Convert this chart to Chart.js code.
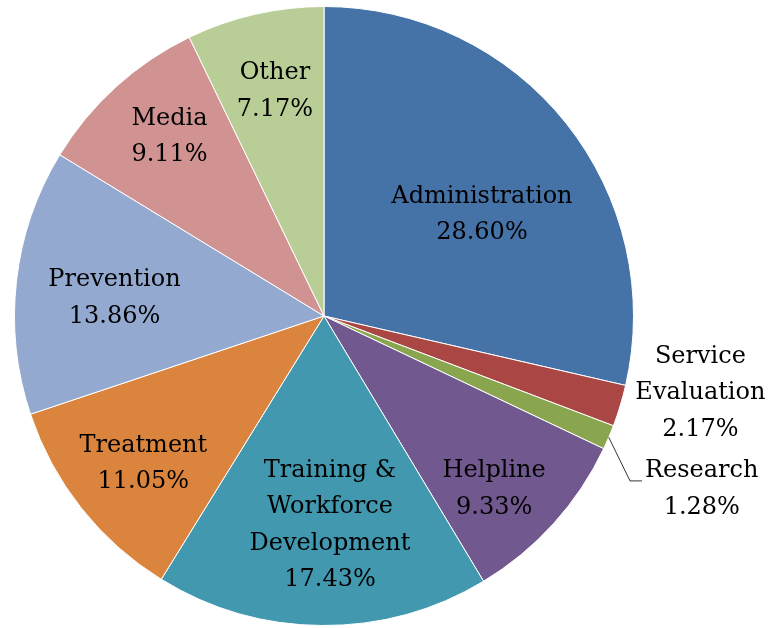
<!DOCTYPE html>
<html>
<head>
<meta charset="utf-8">
<script src="https://cdn.jsdelivr.net/npm/chart.js@4"></script>
<style>
  html, body { margin: 0; padding: 0; background: #fff; }
  #pie { display: block; }
</style>
</head>
<body>
<canvas id="pie" width="770" height="628"></canvas>
<script>
// categories, clockwise from 12 o'clock
const categories = [
    ['Administration'],
    ['Service', 'Evaluation'],
    ['Research'],
    ['Helpline'],
    ['Training &', 'Workforce', 'Development'],
    ['Treatment'],
    ['Prevention'],
    ['Media'],
    ['Other']
];
const shares = [28.60, 2.17, 1.28, 9.33, 17.43, 11.05, 13.86, 9.11, 7.17];
const sliceColors = ['#4572A7', '#AA4643', '#89A54E', '#71588F', '#4198AF', '#DB843D', '#93A9CF', '#D19392', '#B9CD96'];

// label placement: distance from centre (fraction of radius) and turn away from mid angle (deg)
const labelRadius = [0.61, 1.24, 1.34, 0.78, 0.67, 0.75, 0.68, 0.77, 0.75];
const labelTurn   = [5.3, -5.6, 1.3, 3, -2, -0.5, -1, 1.8, 0.7];
const leaderFor = 2; // Research gets a leader line

const FONT = '24px "DejaVu Serif"';
const LINE_H = 36.5;

const sliceLabels = {
    id: 'sliceLabels',
    afterDatasetsDraw(chart) {
        const ctx = chart.ctx;
        const arcs = chart.getDatasetMeta(0).data;
        ctx.save();
        ctx.font = FONT;
        ctx.fillStyle = '#000';
        ctx.textAlign = 'center';
        ctx.textBaseline = 'middle';
        arcs.forEach((arc, i) => {
            const mid = (arc.startAngle + arc.endAngle) / 2;
            const a = mid + labelTurn[i] * Math.PI / 180;
            const r = arc.outerRadius * labelRadius[i];
            const x = arc.x + Math.cos(a) * r;
            const y = arc.y + Math.sin(a) * r + 2;
            const lines = [...categories[i], shares[i].toFixed(2) + '%'];
            const top = y - (lines.length - 1) * LINE_H / 2;
            lines.forEach((t, k) => ctx.fillText(t, x, top + k * LINE_H));

            if (i === leaderFor) {
                const w = ctx.measureText(lines[0]).width;
                const sx = arc.x + Math.cos(mid) * arc.outerRadius;
                const sy = arc.y + Math.sin(mid) * arc.outerRadius;
                const ex = x - w / 2 - 3;
                const ey = top + 10;
                ctx.beginPath();
                ctx.strokeStyle = '#333';
                ctx.lineWidth = 1;
                ctx.moveTo(sx, sy);
                ctx.lineTo(ex - 12, ey);
                ctx.lineTo(ex, ey);
                ctx.stroke();
            }
        });
        ctx.restore();
    }
};

new Chart(document.getElementById('pie'), {
    type: 'pie',
    data: {
        labels: categories,
        datasets: [{
            data: shares,
            backgroundColor: sliceColors,
            borderColor: '#fff',
            borderWidth: 1,
            hoverOffset: 0
        }]
    },
    options: {
        responsive: false,
        animation: false,
        layout: { padding: { left: 14, top: 6, right: 136, bottom: 2 } },
        plugins: {
            legend: { display: false },
            tooltip: { enabled: false }
        },
        events: []
    },
    plugins: [sliceLabels]
});
</script>
</body>
</html>
